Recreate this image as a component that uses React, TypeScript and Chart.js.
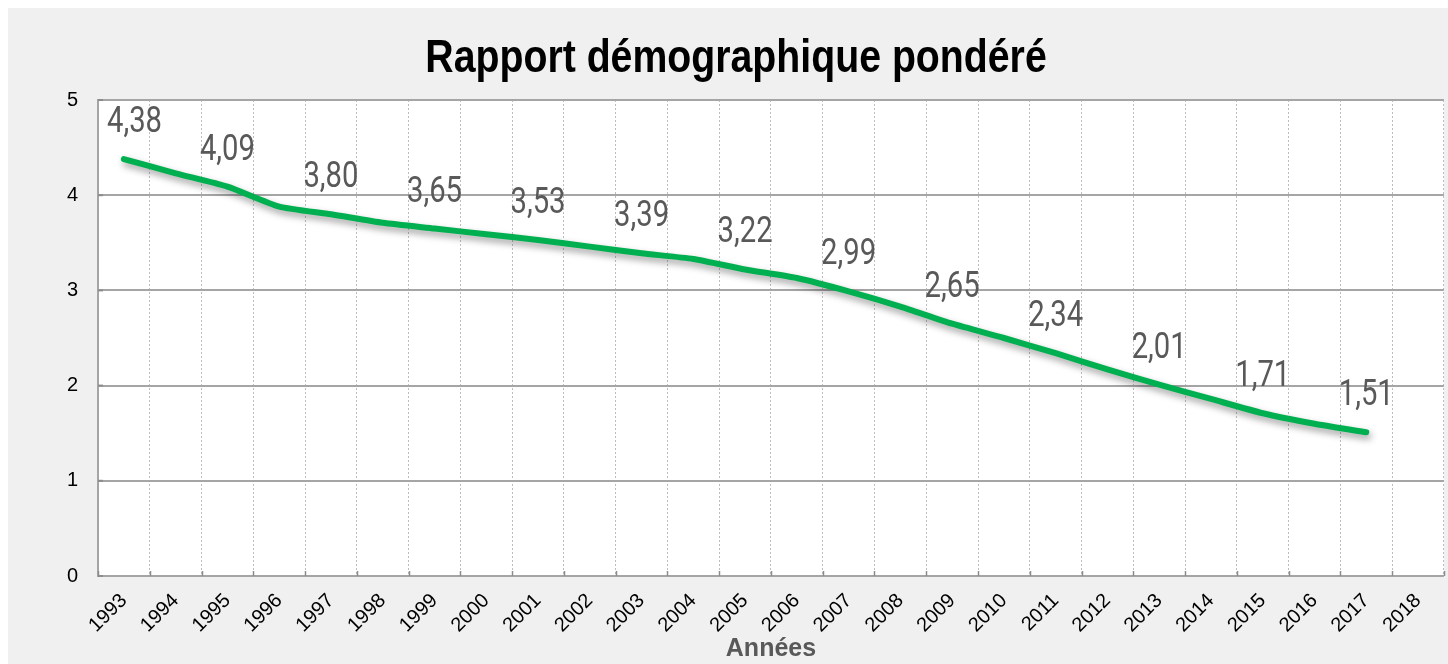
import React, { useEffect, useRef } from 'react';
import { Chart, registerables } from 'chart.js';

Chart.register(...registerables);

const years: string[] = [
  '1993', '1994', '1995', '1996', '1997', '1998', '1999', '2000', '2001',
  '2002', '2003', '2004', '2005', '2006', '2007', '2008', '2009', '2010',
  '2011', '2012', '2013', '2014', '2015', '2016', '2017', '2018',
];

const ratio: (number | null)[] = [
  4.38, 4.23, 4.09, 3.88, 3.8, 3.71, 3.65, 3.59, 3.53, 3.46, 3.39, 3.33, 3.22,
  3.13, 2.99, 2.83, 2.65, 2.5, 2.34, 2.17, 2.01, 1.86, 1.71, 1.6, 1.51,
];

const labelEvery = 2;
const yMin = 0;
const yMax = 5;
const yStep = 1;
const chartTitle = 'Rapport démographique pondéré';
const axisTitle = 'Années';

const FONT = '"Liberation Sans", Arial, sans-serif';

const decorPlugin = {
  id: 'decor',
  beforeDraw(chart: any) {
    const { ctx, width, height, chartArea: a } = chart;
    ctx.save();
    ctx.fillStyle = '#f0f0f0';
    ctx.fillRect(0, 0, width, height);
    ctx.fillStyle = '#ffffff';
    ctx.fillRect(a.left, a.top, a.right - a.left, a.bottom - a.top);
    ctx.restore();
  },
  beforeDatasetDraw(chart: any) {
    const { ctx } = chart;
    ctx.save();
    ctx.shadowColor = 'rgba(0,0,0,0.38)';
    ctx.shadowBlur = 7;
    ctx.shadowOffsetX = 2;
    ctx.shadowOffsetY = 4;
  },
  afterDatasetDraw(chart: any) {
    chart.ctx.restore();
  },
  afterDraw(chart: any) {
    const { ctx, width, chartArea: a } = chart;
    // inner tick marks on x axis
    const xs = chart.scales.x;
    ctx.save();
    ctx.strokeStyle = '#8c8c8c';
    ctx.lineWidth = 1.5;
    const n = xs.ticks.length;
    const step = xs.getPixelForTick(1) - xs.getPixelForTick(0);
    for (let i = 0; i <= n; i++) {
      const px = i < n ? xs.getPixelForTick(i) - step / 2 : a.right;
      ctx.beginPath();
      ctx.moveTo(Math.round(px) + 0.5, a.bottom - 5);
      ctx.lineTo(Math.round(px) + 0.5, a.bottom);
      ctx.stroke();
    }
    const ys = chart.scales.y;
    ys.ticks.forEach((_t: any, i: number) => {
      const py = ys.getPixelForTick(i);
      ctx.beginPath();
      ctx.moveTo(a.left, py);
      ctx.lineTo(a.left + 5, py);
      ctx.lineWidth = 2;
      ctx.stroke();
    });
    ctx.restore();

    // title
    ctx.save();
    ctx.font = 'bold 47px ' + FONT;
    ctx.fillStyle = '#000000';
    ctx.textAlign = 'center';
    ctx.textBaseline = 'alphabetic';
    ctx.translate(width / 2 + 8, 64);
    ctx.scale(0.835, 1);
    ctx.fillText(chartTitle, 0, 0);
    ctx.restore();

    // data labels
    const meta = chart.getDatasetMeta(0);
    const data = chart.data.datasets[0].data;
    ctx.save();
    ctx.font = '37px Roboto, "Liberation Sans", sans-serif';
    ctx.fillStyle = '#595959';
    ctx.textAlign = 'center';
    ctx.textBaseline = 'alphabetic';
    const sx = 0.79;
    meta.data.forEach((pt: any, i: number) => {
      if (i % labelEvery !== 0) return;
      const v = data[i];
      if (v == null) return;
      const txt = (v as number).toFixed(2).replace('.', ',');
      const w = ctx.measureText(txt).width * sx;
      let cx = pt.x;
      if (cx - w / 2 < a.left + 9) cx = a.left + 9 + w / 2;
      ctx.save();
      ctx.translate(cx, pt.y - 27);
      ctx.scale(sx, 1);
      ctx.fillText(txt, 0, 0);
      ctx.restore();
    });
    ctx.restore();
  },
};

export default function App() {
  const ref = useRef<HTMLCanvasElement | null>(null);

  useEffect(() => {
    if (!ref.current) return;
    const chart = new Chart(ref.current, {
      type: 'line',
      data: {
        labels: years,
        datasets: [
          {
            data: ratio,
            borderColor: '#00b050',
            borderWidth: 6,
            borderCapStyle: 'round',
            borderJoinStyle: 'round',
            pointRadius: 0,
            pointHoverRadius: 0,
            tension: 0.2,
            fill: false,
          },
        ],
      },
      options: {
        responsive: false,
        animation: false,
        events: [],
        layout: { padding: { top: 92, left: 0, right: 0, bottom: 0 } },
        plugins: {
          legend: { display: false },
          title: { display: false },
          tooltip: { enabled: false },
        },
        scales: {
          x: {
            type: 'category',
            offset: true,
            grid: {
              offset: true,
              color: '#bdbdbd',
              lineWidth: 1,
              drawTicks: false,
            },
            border: { display: false, dash: [2, 2] },
            ticks: {
              autoSkip: false,
              minRotation: 45,
              maxRotation: 45,
              color: '#000000',
              font: { family: FONT, size: 20 },
              padding: 13,
            },
            title: {
              display: true,
              text: axisTitle,
              color: '#595959',
              font: { family: FONT, size: 25, weight: 'bold' },
              padding: { top: 0, bottom: 0 },
            },
            afterFit(scale: any) {
              scale.height = 88;
            },
          },
          y: {
            min: yMin,
            max: yMax,
            grid: { color: '#a5a5a5', lineWidth: 2, drawTicks: false },
            border: { display: true, color: '#a5a5a5', width: 2 },
            ticks: {
              stepSize: yStep,
              color: '#000000',
              font: { family: FONT, size: 20 },
              padding: 20,
            },
            afterFit(scale: any) {
              scale.width = 90;
            },
          },
        },
      },
      plugins: [decorPlugin],
    } as any);
    return () => chart.destroy();
  }, []);

  return (
    <div style={{ position: 'absolute', left: 8, top: 8, width: 1440, height: 656 }}>
      <canvas ref={ref} width={1440} height={656} />
    </div>
  );
}
